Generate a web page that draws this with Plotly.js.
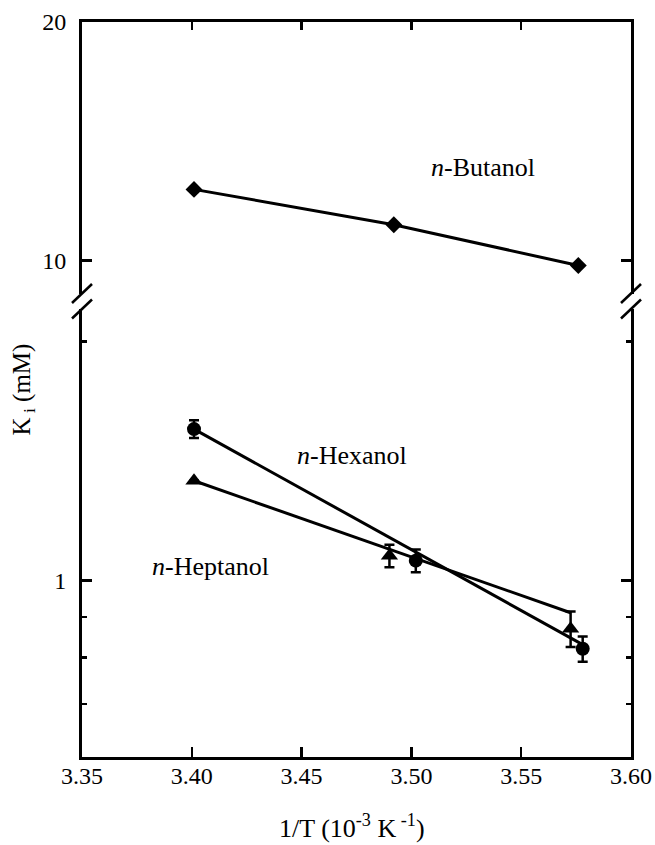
<!DOCTYPE html>
<html>
<head>
<meta charset="utf-8">
<script src="https://cdn.plot.ly/plotly-3.0.1.min.js"></script>
<style>html,body{margin:0;padding:0;background:#fff;}#chart{width:655px;height:845px;}</style>
</head>
<body>
<div id="chart"></div>
<script>
// ---- data ----
var butanolX = [3.401, 3.492, 3.576];
var butanolY = [12.3, 11.1, 9.86];

var hexanolX = [3.401, 3.502, 3.578];
var hexanolY = [1.552, 1.060, 0.821];
var hexanolErr = [0.04, 0.035, 0.03];
var hexanolFitX = [3.401, 3.578];
var hexanolFitY = [1.552, 0.831];

var heptanolX = [3.401, 3.490, 3.5725];
var heptanolY = [1.336, 1.075, 0.87];
var heptanolErr = [0, 0.035, 0.045];
var heptanolFitX = [3.401, 3.5725];
var heptanolFitY = [1.336, 0.9115];

var xTicks = [3.35, 3.40, 3.45, 3.50, 3.55, 3.60];
var xTickText = ['3.35', '3.40', '3.45', '3.50', '3.55', '3.60'];
var lowerMajor = [1];
var lowerMajorText = ['1'];
var lowerMinor = [0.6, 0.7, 0.8, 0.9, 2];
var upperMajor = [10, 20];
var upperMajorText = ['10', '20'];

var FONT = 'Liberation Serif';
var black = '#000';

function tf() { return {family: FONT, size: 24, color: black}; }

var traces = [
  {x: hexanolFitX, y: hexanolFitY, xaxis: 'x', yaxis: 'y', mode: 'lines',
   line: {color: black, width: 3}, hoverinfo: 'skip'},
  {x: heptanolFitX, y: heptanolFitY, xaxis: 'x', yaxis: 'y', mode: 'lines',
   line: {color: black, width: 3}, hoverinfo: 'skip'},
  {x: hexanolX, y: hexanolY, xaxis: 'x', yaxis: 'y', mode: 'markers',
   marker: {symbol: 'circle', size: 14, color: black},
   error_y: {type: 'data', array: hexanolErr, visible: true, color: black, thickness: 2.5, width: 5}},
  {x: heptanolX, y: heptanolY, xaxis: 'x', yaxis: 'y', mode: 'markers',
   marker: {symbol: 'triangle-up', size: 15, color: black},
   error_y: {type: 'data', array: heptanolErr, visible: true, color: black, thickness: 2.5, width: 5}},
  {x: butanolX, y: butanolY, xaxis: 'x2', yaxis: 'y2', mode: 'lines+markers',
   line: {color: black, width: 3},
   marker: {symbol: 'diamond', size: 13, color: black}}
];

var plotL = 82, plotR = 631, plotT = 22, plotB = 757;
var W = plotR - plotL, H = plotB - plotT;
function px(x) { return (x - plotL) / W; }
function py(y) { return (plotB - y) / H; }

var upperBottom = py(293.5), lowerTop = py(309);

function axis(extra) {
  var a = {
    showline: true, linecolor: black, linewidth: 3,
    showgrid: false, zeroline: false,
    ticks: 'inside', tickcolor: black, tickwidth: 2.5,
    tickfont: tf()
  };
  for (var k in extra) a[k] = extra[k];
  return a;
}

var layout = {
  width: 655, height: 845,
  margin: {l: plotL, r: 655 - plotR, t: plotT, b: 845 - plotB},
  paper_bgcolor: '#fff', plot_bgcolor: '#fff',
  showlegend: false,
  font: {family: FONT, size: 24, color: black},
  xaxis: axis({
    range: [3.35, 3.60], domain: [0, 1], anchor: 'y',
    tickmode: 'array', tickvals: xTicks, ticktext: xTickText,
    ticklen: 10, ticklabelstandoff: -5
  }),
  xaxis2: axis({
    range: [3.35, 3.60], domain: [0, 1], anchor: 'y2', side: 'top',
    tickmode: 'array', tickvals: xTicks, ticklen: 8, showticklabels: false
  }),
  yaxis: axis({
    type: 'log', range: [Math.log10(0.6), Math.log10(2.198)],
    domain: [0, lowerTop], anchor: 'x', mirror: 'ticks',
    tickmode: 'array', tickvals: lowerMajor, ticktext: lowerMajorText,
    ticklen: 10, ticklabelstandoff: 8,
    minor: {tickmode: 'array', tickvals: lowerMinor, ticks: 'inside', ticklen: 5,
            tickwidth: 2.5, tickcolor: black, showgrid: false}
  }),
  yaxis2: axis({
    type: 'log', range: [Math.log10(9.09), Math.log10(20)],
    domain: [upperBottom, 1], anchor: 'x2', mirror: 'ticks',
    tickmode: 'array', tickvals: upperMajor, ticktext: upperMajorText,
    ticklen: 10, ticklabelstandoff: 8
  }),
  annotations: [
    {text: '<i>n</i>-Butanol', xref: 'paper', yref: 'paper', x: px(482.5), y: py(168),
     showarrow: false, xanchor: 'center', yanchor: 'middle', font: {family: FONT, size: 26, color: black}},
    {text: '<i>n</i>-Hexanol', xref: 'paper', yref: 'paper', x: px(351.5), y: py(455),
     showarrow: false, xanchor: 'center', yanchor: 'middle', font: {family: FONT, size: 26, color: black}},
    {text: '<i>n</i>-Heptanol', xref: 'paper', yref: 'paper', x: px(210.5), y: py(566),
     showarrow: false, xanchor: 'center', yanchor: 'middle', font: {family: FONT, size: 26, color: black}},
    {text: 'K<sub> i</sub> (mM)', xref: 'paper', yref: 'paper', x: px(23), y: py(389.5),
     textangle: -90, showarrow: false, xanchor: 'center', yanchor: 'middle',
     font: {family: FONT, size: 25, color: black}},
    {text: '1/T (10<sup>-3</sup> K<sup> -1</sup>)', xref: 'paper', yref: 'paper', x: px(352), y: py(826),
     showarrow: false, xanchor: 'center', yanchor: 'middle', font: {family: FONT, size: 26, color: black}}
  ],
  shapes: []
};

// axis-break marks on both vertical axes
var dx = 10 / W, dy = 9.5 / H;
[0, 1].forEach(function (ax) {
  [upperBottom, lowerTop].forEach(function (yc) {
    layout.shapes.push({type: 'line', xref: 'paper', yref: 'paper',
      x0: ax - dx, y0: yc - dy, x1: ax + dx, y1: yc + dy,
      line: {color: black, width: 2.5}});
  });
});

Plotly.newPlot('chart', traces, layout, {staticPlot: true, displayModeBar: false});
</script>
</body>
</html>
